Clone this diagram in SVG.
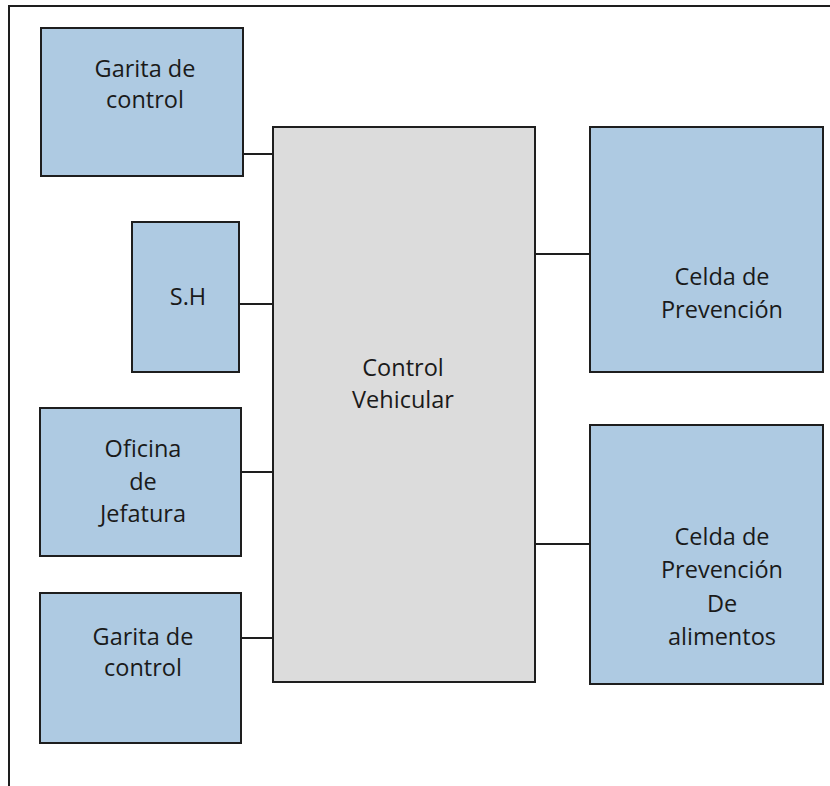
<svg xmlns="http://www.w3.org/2000/svg" width="830" height="786" viewBox="0 0 830 786">
<style>
.b{fill:#aecae2;stroke:#1e1e1e;stroke-width:2}
.g{fill:#dcdcdc;stroke:#1e1e1e;stroke-width:2}
.c{stroke:#1e1e1e;stroke-width:2;fill:none}
text{font-family:"Open Sans","Noto Sans",sans-serif;font-size:23.5px;fill:#1a1a1a;text-anchor:middle}
</style>
<rect width="830" height="786" fill="#fff"/>
<g id="frame"><path class="c" d="M9,786 V6 H830" stroke-width="3"/></g>
<g id="connectors">
<line class="c" x1="243" y1="154" x2="274" y2="154"/>
<line class="c" x1="239" y1="304" x2="274" y2="304"/>
<line class="c" x1="241" y1="472" x2="274" y2="472"/>
<line class="c" x1="241" y1="638" x2="274" y2="638"/>
<line class="c" x1="535" y1="254" x2="590" y2="254"/>
<line class="c" x1="535" y1="544" x2="590" y2="544"/>
</g>
<g id="control-vehicular"><rect class="g" x="273" y="127" width="262" height="555"/>
<text x="403" y="376">Control</text><text x="403" y="408">Vehicular</text></g>
<g id="garita1"><rect class="b" x="41" y="28" width="202" height="148"/>
<text x="145" y="77">Garita de</text><text x="145" y="108">control</text></g>
<g id="sh"><rect class="b" x="132" y="222" width="107" height="150"/>
<text x="188" y="305">S.H</text></g>
<g id="oficina"><rect class="b" x="40" y="408" width="201" height="148"/>
<text x="143" y="457">Oficina</text><text x="143" y="490">de</text><text x="143" y="522">Jefatura</text></g>
<g id="garita2"><rect class="b" x="40" y="593" width="201" height="150"/>
<text x="143" y="645">Garita de</text><text x="143" y="676">control</text></g>
<g id="celda1"><rect class="b" x="590" y="127" width="233" height="245"/>
<text x="722" y="285">Celda de</text><text x="722" y="318">Prevención</text></g>
<g id="celda2"><rect class="b" x="590" y="425" width="233" height="259"/>
<text x="722" y="545">Celda de</text><text x="722" y="578">Prevención</text><text x="722" y="612">De</text><text x="722" y="645">alimentos</text></g>
</svg>
